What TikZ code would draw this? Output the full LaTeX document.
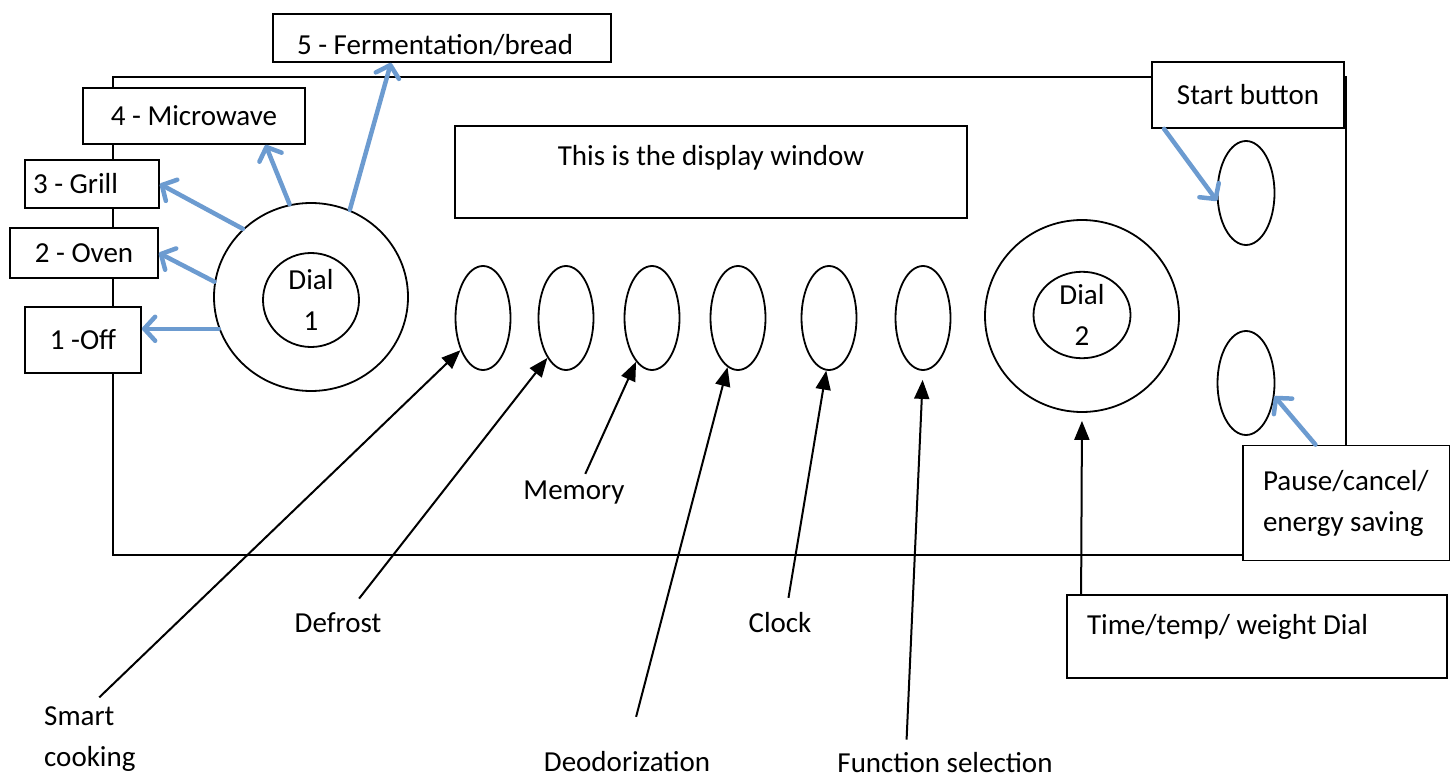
\documentclass[tikz,border=0pt]{standalone}
\usepackage{fontspec}
\setmainfont{Carlito}
\usetikzlibrary{shapes.geometric,arrows.meta}
\definecolor{dialblue}{RGB}{108,155,208}

\begin{document}
\begin{tikzpicture}[x=1pt,y=-1pt,
  box/.style={draw,fill=white,line width=1.8pt,inner sep=0pt,font=\fontsize{29}{41}\selectfont},
  lbl/.style={inner sep=0pt,font=\fontsize{29}{41}\selectfont},
  knob/.style={draw,ellipse,line width=1.8pt,inner sep=0pt,font=\fontsize{29}{41}\selectfont},
  pointer/.style={line width=2pt,-{Triangle[length=19pt,width=15pt]}},
  bluepointer/.style={draw=dialblue,line width=4.5pt,line cap=round,-{Straight Barb[length=11pt,width=24pt,round]}}]
\useasboundingbox (0,0) rectangle (1450,778);
\draw[line width=1.8pt] (113,77) rectangle (1346,555);
\node[box,minimum width=338pt,text width=290pt,align=flush left,text height=41pt,text depth=7pt] (ferm) at (442,38) {5 - Fermentation/bread};
\node[box,minimum width=222pt,minimum height=56pt] (micro) at (194,116) {4 - Microwave};
\node[box,minimum height=48pt,text width=118pt,inner xsep=8pt,align=flush left] (grill) at (92,184) {3 - Grill};
\node[box,minimum width=148pt,minimum height=50pt] (oven) at (84,253) {2 - Oven};
\node[box,minimum width=116pt,minimum height=66pt] (off) at (83,340) {1 -Off};
\node[box,minimum width=512pt,text height=40pt,text depth=52pt] (display) at (711,172) {This is the display window};
\node[box,minimum width=192pt,minimum height=66pt] (startbox) at (1248,95) {Start button};
\node[box,minimum height=115pt,text width=167pt,inner xsep=20pt,align=flush left] (pausebox) at (1346.5,503) {Pause/cancel/\\energy saving};
\node[box,text width=340pt,inner xsep=20pt,align=flush left,text height=39pt,text depth=44pt] (timebox) at (1257,636.5) {Time/temp/ weight Dial};
\node[knob,minimum width=194pt,minimum height=188pt] (dialone) at (311,297) {};
\node[knob,minimum width=96pt,minimum height=94pt,align=center] (dialonein) at (311,300) {Dial\\1};
\node[knob,minimum width=194pt,minimum height=192pt] (dialtwo) at (1082,316) {};
\node[knob,minimum width=97pt,minimum height=80pt,align=center] (dialtwoin) at (1082,315) {Dial\\2};
\node[knob,minimum width=55pt,minimum height=104pt] (b1) at (483,318) {};
\node[knob,minimum width=55pt,minimum height=104pt] (b2) at (566,318) {};
\node[knob,minimum width=55pt,minimum height=104pt] (b3) at (652,318) {};
\node[knob,minimum width=55pt,minimum height=104pt] (b4) at (738,318) {};
\node[knob,minimum width=55pt,minimum height=104pt] (b5) at (829,318) {};
\node[knob,minimum width=55pt,minimum height=104pt] (b6) at (923,318) {};
\node[knob,minimum width=57pt,minimum height=104pt] (startbtn) at (1246,193) {};
\node[knob,minimum width=57pt,minimum height=104pt] (pausebtn) at (1246,383) {};
\node[lbl,align=flush left,anchor=west] (smart) at (44,739) {Smart\\cooking};
\node[lbl] (defrost) at (338,623) {Defrost};
\node[lbl] (memory) at (574,493) {Memory};
\node[lbl] (deodor) at (627,762) {Deodorization};
\node[lbl] (clock) at (780,623) {Clock};
\node[lbl] (func) at (945,763) {Function selection};
\draw[pointer,shorten <=13pt] (smart.north) -- (b1.235);
\draw[pointer,shorten <=18pt] ([xshift=10pt]defrost.north) -- (b2.245);
\draw[pointer,shorten <=8pt] ([xshift=8pt]memory.north) -- (b3.250);
\draw[pointer,shorten <=36pt] (deodor.north) -- (b4.258);
\draw[pointer,shorten <=15pt] ([xshift=6pt]clock.north) -- (b5.267);
\draw[pointer,shorten <=13pt,shorten >=9pt] ([xshift=-39pt]func.north) -- (b6.south);
\draw[pointer,shorten >=8pt] ([xshift=15pt]timebox.north west) -- (dialtwo.south);
\draw[bluepointer] (dialone.199) -- (dialone.199 -| off.east);
\draw[bluepointer] (dialone.171) -- (oven.east);
\draw[bluepointer] (dialone.135) -- (grill.east);
\draw[bluepointer] (dialone.103) -- (micro.-22);
\draw[bluepointer] (dialone.66) -- (ferm.-154);
\draw[bluepointer] (startbox.202) -- (startbtn.195);
\draw[bluepointer] (pausebox.118) -- (pausebtn.-25);
\end{tikzpicture}
\end{document}
